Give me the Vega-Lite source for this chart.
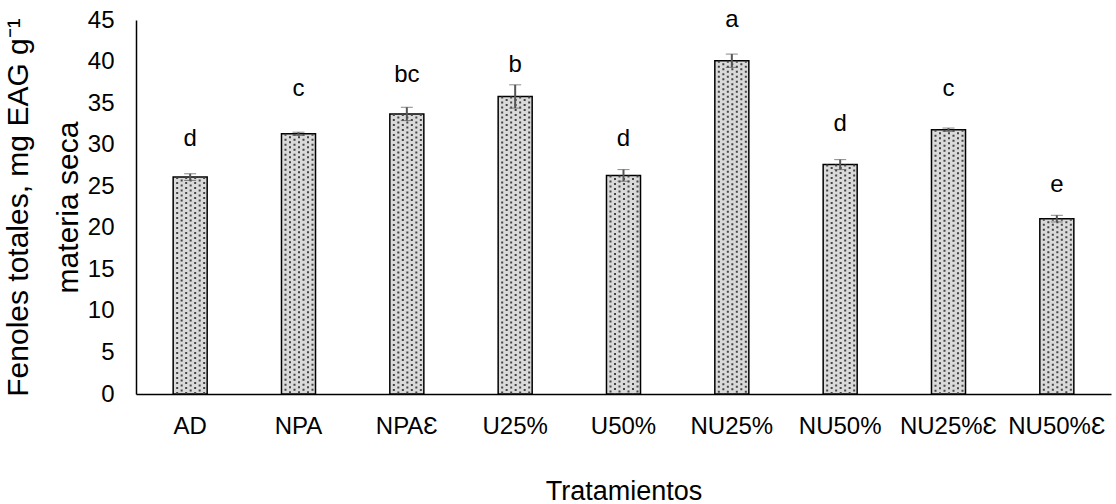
{
  "$schema": "https://vega.github.io/schema/vega-lite/v6.json",
  "width": 975,
  "height": 374,
  "autosize": {"type": "none"},
  "padding": {"left": 136, "top": 20, "right": 5, "bottom": 110},
  "background": "white",
  "config": {
    "aria": false,
    "view": {"stroke": null},
    "font": "Liberation Sans",
    "axis": {"labelColor": "#000", "titleColor": "#000", "titleFontWeight": "normal"},
    "style": {"guide-title": {"lineBreak": "\n"}}
  },
  "data": {
    "values": [
      {"trat": "AD", "fenoles": 26.1, "de": 0.4, "letra": "d", "letraY": 29.8},
      {"trat": "NPA", "fenoles": 31.3, "de": 0.2, "letra": "c", "letraY": 35.8},
      {"trat": "NPAƐ", "fenoles": 33.7, "de": 0.8, "letra": "bc", "letraY": 37.6},
      {"trat": "U25%", "fenoles": 35.8, "de": 1.4, "letra": "b", "letraY": 38.7},
      {"trat": "U50%", "fenoles": 26.3, "de": 0.7, "letra": "d", "letraY": 29.8},
      {"trat": "NU25%", "fenoles": 40.1, "de": 0.8, "letra": "a", "letraY": 44.1},
      {"trat": "NU50%", "fenoles": 27.6, "de": 0.6, "letra": "d", "letraY": 31.7},
      {"trat": "NU25%Ɛ", "fenoles": 31.8, "de": 0.2, "letra": "c", "letraY": 35.8},
      {"trat": "NU50%Ɛ", "fenoles": 21.1, "de": 0.4, "letra": "e", "letraY": 24.3}
    ]
  },
  "encoding": {
    "x": {
      "field": "trat",
      "type": "nominal",
      "sort": null,
      "scale": {"paddingInner": 0.686, "paddingOuter": 0.343},
      "axis": {
        "title": "Tratamientos",
        "titleFontSize": 27,
        "titlePadding": 40,
        "labelFontSize": 24,
        "labelAngle": 0,
        "labelPadding": 20,
        "ticks": false,
        "domainColor": "#000",
        "domainWidth": 1.5
      }
    },
    "y": {
      "field": "fenoles",
      "type": "quantitative",
      "title": "Fenoles totales, mg EAG g⁻¹\nmateria seca",
      "scale": {"domain": [0, 45], "nice": false},
      "axis": {
        "titleFontSize": 30,
        "titleLineHeight": 50,
        "titlePadding": 4,
        "labelFontSize": 24,
        "labelPadding": 22,
        "values": [0, 5, 10, 15, 20, 25, 30, 35, 40, 45],
        "ticks": false,
        "grid": false,
        "domainColor": "#000",
        "domainWidth": 1.5
      }
    }
  },
  "layer": [
    {
      "mark": {"type": "bar", "fill": "#dadada", "stroke": "#000", "strokeWidth": 1.5}
    },
    {
      "encoding": {"y2": {"datum": 0}},
      "layer": [
        {"mark": {"type": "rule", "xOffset": -13, "strokeDash": [2, 3], "strokeWidth": 2, "color": "#444"}},
        {"mark": {"type": "rule", "xOffset": -8.5, "strokeDash": [2, 3], "strokeDashOffset": 2.5, "strokeWidth": 2, "color": "#444"}},
        {"mark": {"type": "rule", "xOffset": -4, "strokeDash": [2, 3], "strokeWidth": 2, "color": "#444"}},
        {"mark": {"type": "rule", "xOffset": 0.5, "strokeDash": [2, 3], "strokeDashOffset": 2.5, "strokeWidth": 2, "color": "#444"}},
        {"mark": {"type": "rule", "xOffset": 5, "strokeDash": [2, 3], "strokeWidth": 2, "color": "#444"}},
        {"mark": {"type": "rule", "xOffset": 9.5, "strokeDash": [2, 3], "strokeDashOffset": 2.5, "strokeWidth": 2, "color": "#444"}},
        {"mark": {"type": "rule", "xOffset": 14, "strokeDash": [2, 3], "strokeWidth": 2, "color": "#444"}}
      ]
    },
    {
      "mark": {
        "type": "errorbar",
        "ticks": {"size": 12, "color": "#555", "strokeWidth": 2},
        "rule": {"color": "#555", "strokeWidth": 2}
      },
      "encoding": {
        "yError": {"field": "de"}
      }
    },
    {
      "mark": {"type": "text", "fontSize": 24, "baseline": "alphabetic", "color": "#000"},
      "encoding": {
        "y": {"field": "letraY", "type": "quantitative", "title": "Fenoles totales, mg EAG g⁻¹\nmateria seca"},
        "text": {"field": "letra"}
      }
    }
  ]
}
